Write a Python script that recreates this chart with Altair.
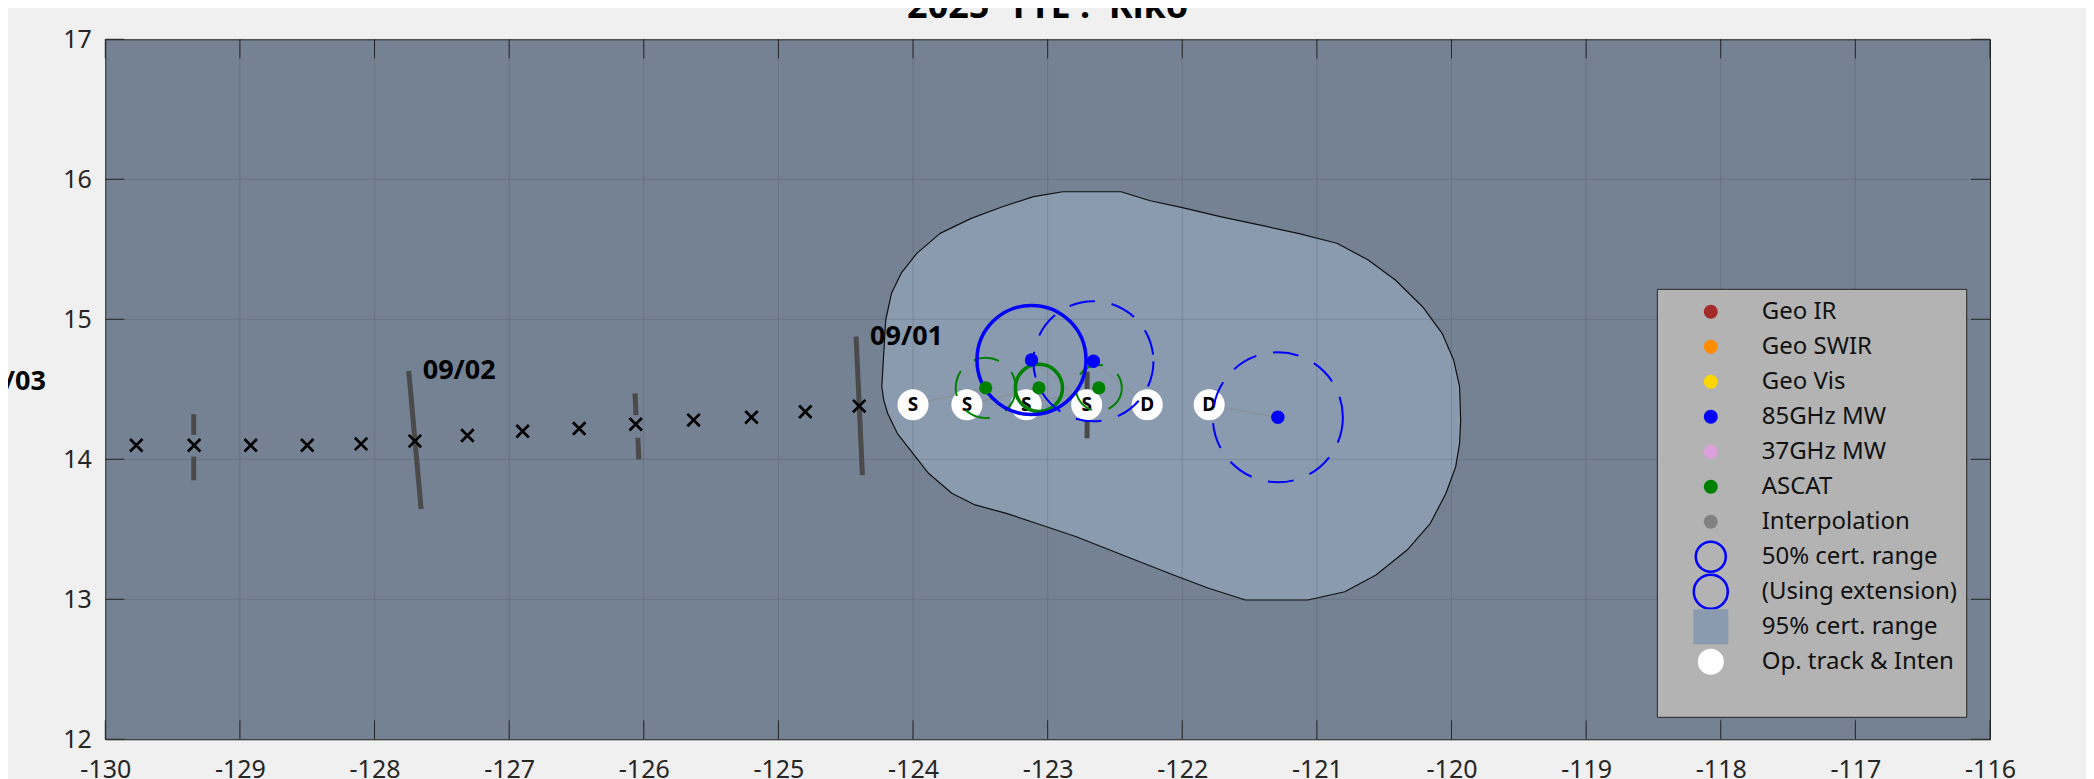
import altair as alt
import pandas as pd

# ---------------- data ----------------
x_ticks = list(range(-130, -115))
y_ticks = list(range(12, 18))

# past track positions (black x)
track_lon = [-129.77, -129.34, -128.92, -128.50, -128.10, -127.70, -127.31,
             -126.90, -126.48, -126.06, -125.63, -125.20, -124.80, -124.40]
track_lat = [14.10, 14.10, 14.10, 14.10, 14.11, 14.13, 14.17,
             14.20, 14.22, 14.25, 14.28, 14.30, 14.34, 14.38]

# operational track & intensity markers
op_lon = [-124.00, -123.60, -123.16, -122.71, -122.26, -121.80]
op_lat = [14.39, 14.39, 14.39, 14.39, 14.39, 14.39]
op_code = ["S", "S", "S", "S", "D", "D"]

# 85GHz MW fixes (radius of certainty in degrees, extension flag)
mw85_lon = [-123.12, -122.66, -121.29]
mw85_lat = [14.71, 14.70, 14.30]
mw85_rad = [0.405, 0.446, 0.483]
mw85_ext = [False, True, True]
mw85_op = [3, 4, 5]

# ASCAT fixes
ascat_lon = [-123.46, -123.065, -122.62]
ascat_lat = [14.51, 14.51, 14.51]
ascat_rad = [0.223, 0.175, 0.171]
ascat_ext = [True, False, True]
ascat_op = [0, 1, 2]

# 95% certainty region outline
blob_lon = [-124.232, -124.203, -124.160, -124.088, -123.972, -123.799, -123.568,
            -123.336, -123.105, -122.888, -122.455, -122.238, -122.007, -121.718,
            -121.429, -121.140, -120.851, -120.619, -120.417, -120.215, -120.070,
            -119.984, -119.940, -119.932, -119.940, -119.969, -120.041, -120.157,
            -120.330, -120.561, -120.793, -121.067, -121.530, -121.804, -122.065,
            -122.411, -122.787, -123.047, -123.307, -123.539, -123.712, -123.885,
            -124.001, -124.117, -124.189, -124.218]
blob_lat = [14.519, 14.995, 15.186, 15.329, 15.471, 15.614, 15.721,
            15.804, 15.876, 15.911, 15.911, 15.847, 15.800, 15.733,
            15.674, 15.614, 15.543, 15.424, 15.281, 15.090, 14.900,
            14.709, 14.519, 14.281, 14.114, 13.947, 13.757, 13.543,
            13.352, 13.174, 13.054, 12.995, 12.995, 13.079, 13.174,
            13.304, 13.447, 13.531, 13.614, 13.674, 13.757, 13.900,
            14.043, 14.186, 14.329, 14.424]

# day marks (long) and half-day marks (two short pieces each)
day_lon_top = [-131.087, -127.746, -124.423]
day_lat_top = [14.554, 14.631, 14.876]
day_lon_bot = [-131.00, -127.654, -124.376]
day_lat_bot = [13.60, 13.645, 13.886]
day_label = ["09/03", "09/02", "09/01"]

half_lon_a = [-129.343, -129.343, -126.065, -126.044, -122.707, -122.707]
half_lat_a = [14.322, 14.019, 14.471, 14.154, 14.626, 14.309]
half_lon_b = [-129.343, -129.343, -126.058, -126.037, -122.707, -122.707]
half_lat_b = [14.174, 13.850, 14.316, 14.000, 14.467, 14.150]

legend_labels = ["Geo IR", "Geo SWIR", "Geo Vis", "85GHz MW", "37GHz MW", "ASCAT",
                 "Interpolation", "50% cert. range", "(Using extension)",
                 "95% cert. range", "Op. track & Inten"]
dot_colors = ["#a52a2a", "#ff8c00", "#ffd700", "#0000ff", "#dda0dd", "#008000", "#808080"]

TITLE = "2025\u00a0\u00a0TTE\u00a0:\u00a0\u00a0Kiko"

# ---------------- layout / style ----------------
W, H = 1884.7, 700
PXX = W / 14.0
FONT = "Noto Sans"
PLOT_BG = "#758294"
BLOB = "#8a9bb0"
LEG_BG = "#b3b3b3"
AXC = "#262626"
TL = 19
LEG_BOX = (-118.471, 15.214, -116.173, 12.157)
LEG_SYM_X = -118.074
LEG_TXT_X = -117.696
LEG_ROW0 = 15.054
LEG_DY = 0.25
DASH = [26, 17]

XS = alt.Scale(domain=[-130, -116], nice=False, zero=False)
YS = alt.Scale(domain=[12, 17], nice=False, zero=False)

x_axis = alt.Axis(values=x_ticks, labelExpr="'' + datum.value", grid=False, ticks=False,
                  domain=False, labelFontSize=25, labelPadding=18, labelFont=FONT,
                  labelColor=AXC, labelFlush=False, labelOverlap=False, title=None)
y_axis = alt.Axis(values=y_ticks, labelExpr="'' + datum.value", grid=False, ticks=False,
                  domain=False, labelFontSize=25, labelPadding=14, labelFont=FONT,
                  labelColor=AXC, labelFlush=False, labelOverlap=False, title=None)


def X(f):
    return alt.X(f, type="quantitative", scale=XS, axis=x_axis, title=None)


def Y(f):
    return alt.Y(f, type="quantitative", scale=YS, axis=y_axis, title=None)


# ---------------- layers ----------------
n = len(blob_lon)
blob_df = pd.DataFrame({"lon": blob_lon + blob_lon[:1], "lat": blob_lat + blob_lat[:1],
                        "i": list(range(n + 1))})
blob = alt.Chart(blob_df).mark_line(fill=BLOB, stroke="#111111", strokeWidth=1.2,
                                    strokeJoin="round").encode(
    x=X("lon"), y=Y("lat"), order=alt.Order("i:Q"))

xt_df = pd.DataFrame({"v": x_ticks})
yt_df = pd.DataFrame({"v": y_ticks})
grid_x = alt.Chart(xt_df).mark_rule(color=AXC, opacity=0.15, strokeWidth=1).encode(
    x=X("v"), y=alt.value(0), y2=alt.value(H))
grid_y = alt.Chart(yt_df).mark_rule(color=AXC, opacity=0.15, strokeWidth=1).encode(
    y=Y("v"), x=alt.value(0), x2=alt.value(W))

day_df = pd.DataFrame({"lon1": day_lon_top, "lat1": day_lat_top,
                       "lon2": day_lon_bot, "lat2": day_lat_bot, "lab": day_label})
day_lines = alt.Chart(day_df.iloc[1:]).mark_rule(color="#4a4a4a", strokeWidth=5).encode(
    x=X("lon1"), y=Y("lat1"), x2=alt.X2("lon2"), y2=alt.Y2("lat2"))
half_df = pd.DataFrame({"lon1": half_lon_a, "lat1": half_lat_a,
                        "lon2": half_lon_b, "lat2": half_lat_b})
half_lines = alt.Chart(half_df).mark_rule(color="#4a4a4a", strokeWidth=5).encode(
    x=X("lon1"), y=Y("lat1"), x2=alt.X2("lon2"), y2=alt.Y2("lat2"))

link_df = pd.DataFrame({
    "lon1": ascat_lon + mw85_lon, "lat1": ascat_lat + mw85_lat,
    "lon2": [op_lon[k] for k in ascat_op + mw85_op],
    "lat2": [op_lat[k] for k in ascat_op + mw85_op]})
links = alt.Chart(link_df).mark_rule(color="#8c8c8c", strokeWidth=1).encode(
    x=X("lon1"), y=Y("lat1"), x2=alt.X2("lon2"), y2=alt.Y2("lat2"))

track_df = pd.DataFrame({"lon": track_lon, "lat": track_lat})
track = alt.Chart(track_df).mark_point(
    shape="M-1,-1L1,1M1,-1L-1,1", filled=False, stroke="black", strokeWidth=2.7,
    size=155, opacity=1).encode(x=X("lon"), y=Y("lat"))

op_df = pd.DataFrame({"lon": op_lon, "lat": op_lat, "code": op_code})
op_pts = alt.Chart(op_df).mark_point(shape="circle", filled=True, color="white",
                                     size=960, opacity=1).encode(x=X("lon"), y=Y("lat"))
op_txt = alt.Chart(op_df).mark_text(font=FONT, fontSize=19, fontWeight="bold", color="black",
                                    align="center", baseline="middle").encode(
    x=X("lon"), y=Y("lat"), text="code:N")


def rings(lons, lats, rads, exts, color):
    df = pd.DataFrame({"lon": lons, "lat": lats,
                       "s": [(2 * r * PXX) ** 2 for r in rads], "ext": exts})
    solid = alt.Chart(df[~df["ext"]]).mark_point(
        shape="circle", filled=False, color=color, strokeWidth=3.5, opacity=1).encode(
        x=X("lon"), y=Y("lat"), size=alt.Size("s:Q", scale=None))
    dashed = alt.Chart(df[df["ext"]]).mark_point(
        shape="circle", filled=False, color=color, strokeWidth=2, strokeDash=DASH,
        opacity=1).encode(x=X("lon"), y=Y("lat"), size=alt.Size("s:Q", scale=None))
    return [solid, dashed]


mw_df = pd.DataFrame({"lon": mw85_lon, "lat": mw85_lat})
ascat_df = pd.DataFrame({"lon": ascat_lon, "lat": ascat_lat})
mw_dots = alt.Chart(mw_df).mark_point(shape="circle", filled=True, color="#0000ff",
                                      size=180, opacity=1).encode(x=X("lon"), y=Y("lat"))
ascat_dots = alt.Chart(ascat_df).mark_point(shape="circle", filled=True, color="#008000",
                                            size=175, opacity=1).encode(x=X("lon"), y=Y("lat"))

# legend
leg_box = alt.Chart(pd.DataFrame({"x1": [LEG_BOX[0]], "y1": [LEG_BOX[1]],
                                  "x2": [LEG_BOX[2]], "y2": [LEG_BOX[3]]})).mark_rect(
    fill=LEG_BG, stroke=AXC, strokeWidth=1).encode(
    x=X("x1"), y=Y("y1"), x2=alt.X2("x2"), y2=alt.Y2("y2"))
rows = [LEG_ROW0 - LEG_DY * i for i in range(len(legend_labels))]
leg_dot_df = pd.DataFrame({"lon": [LEG_SYM_X] * 7, "lat": rows[:7], "col": dot_colors})
leg_dots = alt.Chart(leg_dot_df).mark_point(shape="circle", filled=True, size=196,
                                            opacity=1).encode(
    x=X("lon"), y=Y("lat"), color=alt.Color("col:N", scale=None))
leg_ring_df = pd.DataFrame({"lon": [LEG_SYM_X] * 2, "lat": rows[7:9], "s": [900, 1156]})
leg_rings = alt.Chart(leg_ring_df).mark_point(shape="circle", filled=False, color="#0000ff",
                                              strokeWidth=2.5, opacity=1).encode(
    x=X("lon"), y=Y("lat"), size=alt.Size("s:Q", scale=None))
leg_sq = alt.Chart(pd.DataFrame({"lon": [LEG_SYM_X], "lat": [rows[9]]})).mark_point(
    shape="square", filled=True, color=BLOB, size=1225, opacity=1).encode(
    x=X("lon"), y=Y("lat"))
leg_wh = alt.Chart(pd.DataFrame({"lon": [LEG_SYM_X], "lat": [rows[10]]})).mark_point(
    shape="circle", filled=True, color="white", size=676, opacity=1).encode(
    x=X("lon"), y=Y("lat"))
leg_txt = alt.Chart(pd.DataFrame({"lon": [LEG_TXT_X] * len(rows), "lat": rows,
                                  "lab": legend_labels})).mark_text(
    font=FONT, fontSize=24, color="#111111", align="left", baseline="middle").encode(
    x=X("lon"), y=Y("lat"), text="lab:N")

# inward ticks on all four sides
tick_b = alt.Chart(xt_df).mark_rule(color=AXC, strokeWidth=1).encode(
    x=X("v"), y=alt.value(H), y2=alt.value(H - TL))
tick_t = alt.Chart(xt_df).mark_rule(color=AXC, strokeWidth=1).encode(
    x=X("v"), y=alt.value(0), y2=alt.value(TL))
tick_l = alt.Chart(yt_df).mark_rule(color=AXC, strokeWidth=1).encode(
    y=Y("v"), x=alt.value(0), x2=alt.value(TL))
tick_r = alt.Chart(yt_df).mark_rule(color=AXC, strokeWidth=1).encode(
    y=Y("v"), x=alt.value(W), x2=alt.value(W - TL))

day_txt = alt.Chart(day_df).mark_text(font=FONT, fontSize=27, fontWeight="bold",
                                      color="black", align="left", baseline="middle",
                                      dx=14).encode(
    x=X("lon1"), y=Y("lat1"), text="lab:N")

title = alt.Chart(pd.DataFrame({"t": [TITLE]})).mark_text(
    font=FONT, fontSize=36, fontWeight="bold", color="black", align="center",
    baseline="alphabetic").encode(x=alt.value(W / 2), y=alt.value(-21.3), text="t:N")

layers = [blob, grid_x, grid_y, day_lines, half_lines, links, track, op_pts, op_txt]
layers += rings(ascat_lon, ascat_lat, ascat_rad, ascat_ext, "#008000")
layers += rings(mw85_lon, mw85_lat, mw85_rad, mw85_ext, "#0000ff")
layers += [ascat_dots, mw_dots, leg_box, leg_dots, leg_rings, leg_sq, leg_wh, leg_txt,
           tick_b, tick_t, tick_l, tick_r, day_txt, title]

chart = alt.layer(*layers).properties(
    width=W, height=H,
    padding={"left": 97.3, "top": 31.3, "right": 96, "bottom": 39.7},
    autosize=alt.AutoSizeParams(type="none"),
    background="#f0f0f0",
).configure_view(fill=PLOT_BG, stroke=AXC, strokeWidth=1)

chart.save("out.html", embed_options={"renderer": "svg", "actions": False})
